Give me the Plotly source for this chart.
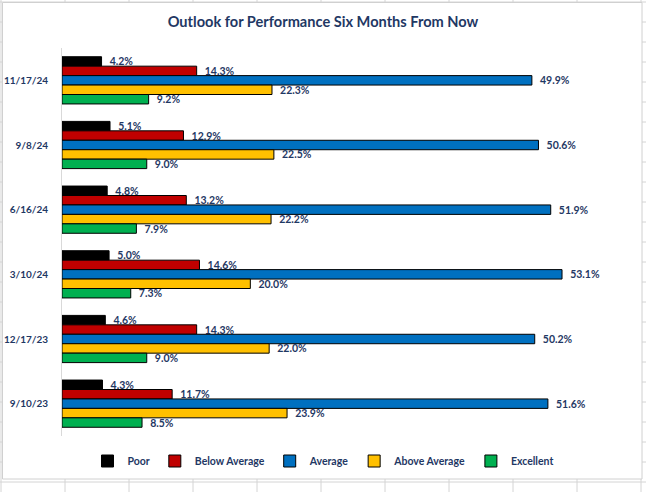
import plotly.graph_objects as go

dates = ["11/17/24", "9/8/24", "6/16/24", "3/10/24", "12/17/23", "9/10/23"]
series_names = ["Poor", "Below Average", "Average", "Above Average", "Excellent"]
poor = [4.2, 5.1, 4.8, 5.0, 4.6, 4.3]
below_average = [14.3, 12.9, 13.2, 14.6, 14.3, 11.7]
average = [49.9, 50.6, 51.9, 53.1, 50.2, 51.6]
above_average = [22.3, 22.5, 22.2, 20.0, 22.0, 23.9]
excellent = [9.2, 9.0, 7.9, 7.3, 9.0, 8.5]
colors = ["#000000", "#C00000", "#0070C0", "#FFC000", "#00B050"]

NAVY = "#1F3864"
FONT = "Lato"
W, H = 646, 492
L, R, T, B = 62, 19, 48, 56
PW, PH = W - L - R, H - T - B


def px_x(px):
    return (px - L) / PW


def px_y(py):
    return (H - B - py) / PH


fig = go.Figure()
for name, vals, col in zip(series_names,
                           [poor, below_average, average, above_average, excellent],
                           colors):
    fig.add_trace(go.Bar(
        name=name, y=dates, x=vals, orientation="h",
        marker=dict(color=col, line=dict(color="#000000", width=1)),
        texttemplate="\u00a0\u00a0%{x:.1f}%", textposition="outside",
        textfont=dict(family=FONT, size=10.5, color=NAVY, weight="bold"),
        constraintext="none", cliponaxis=False,
        hovertemplate="%{y}: %{x:.1f}%<extra>" + name + "</extra>",
    ))

# spreadsheet background grid + chart frame
shapes = []
for k in range(11):
    x = 1 + 64 * k
    shapes.append(dict(type="line", xref="paper", yref="paper", layer="below",
                       x0=px_x(x), x1=px_x(x), y0=px_y(0), y1=px_y(H),
                       line=dict(color="#D4D4D4", width=1)))
for k in range(25):
    y = 2 + 20 * k
    shapes.append(dict(type="line", xref="paper", yref="paper", layer="below",
                       x0=px_x(0), x1=px_x(W), y0=px_y(y), y1=px_y(y),
                       line=dict(color="#D4D4D4", width=1)))
shapes.append(dict(type="rect", xref="paper", yref="paper", layer="below",
                   x0=px_x(2.5), x1=px_x(642), y0=px_y(2.5), y1=px_y(479),
                   fillcolor="#FFFFFF", line=dict(color="#D0D0D0", width=1)))

fig.update_layout(
    width=W, height=H,
    margin=dict(l=L, r=R, t=T, b=B, pad=0, autoexpand=False),
    paper_bgcolor="#FFFFFF", plot_bgcolor="rgba(0,0,0,0)",
    barmode="group", bargap=0.27, bargroupgap=0,
    title=dict(text="<b>Outlook for Performance Six Months From Now</b>",
               x=0.5, xref="container", xanchor="center",
               y=1 - 22 / H, yref="container", yanchor="middle",
               font=dict(family=FONT, size=14.6, color=NAVY)),
    xaxis=dict(range=[0, 60], visible=False, showgrid=False, zeroline=False),
    yaxis=dict(type="category", categoryorder="array", categoryarray=dates,
               autorange="reversed", showline=True, linecolor="#D9D9D9",
               linewidth=1, showgrid=False, ticks="", ticklabelstandoff=11,
               tickfont=dict(family=FONT, size=10, color=NAVY, weight="bold")),
    legend=dict(orientation="h", x=px_x(323), xref="paper", xanchor="center",
                y=px_y(461), yanchor="middle", traceorder="normal",
                font=dict(family=FONT, size=10.5, color=NAVY, weight="bold"),
                itemwidth=30, bgcolor="rgba(0,0,0,0)"),
    shapes=shapes,
    showlegend=True,
)

fig.write_html(
    "out.html",
    config={"displayModeBar": False},
    post_script="document.body.style.margin='0px';"
                "document.body.style.overflow='hidden';",
)
